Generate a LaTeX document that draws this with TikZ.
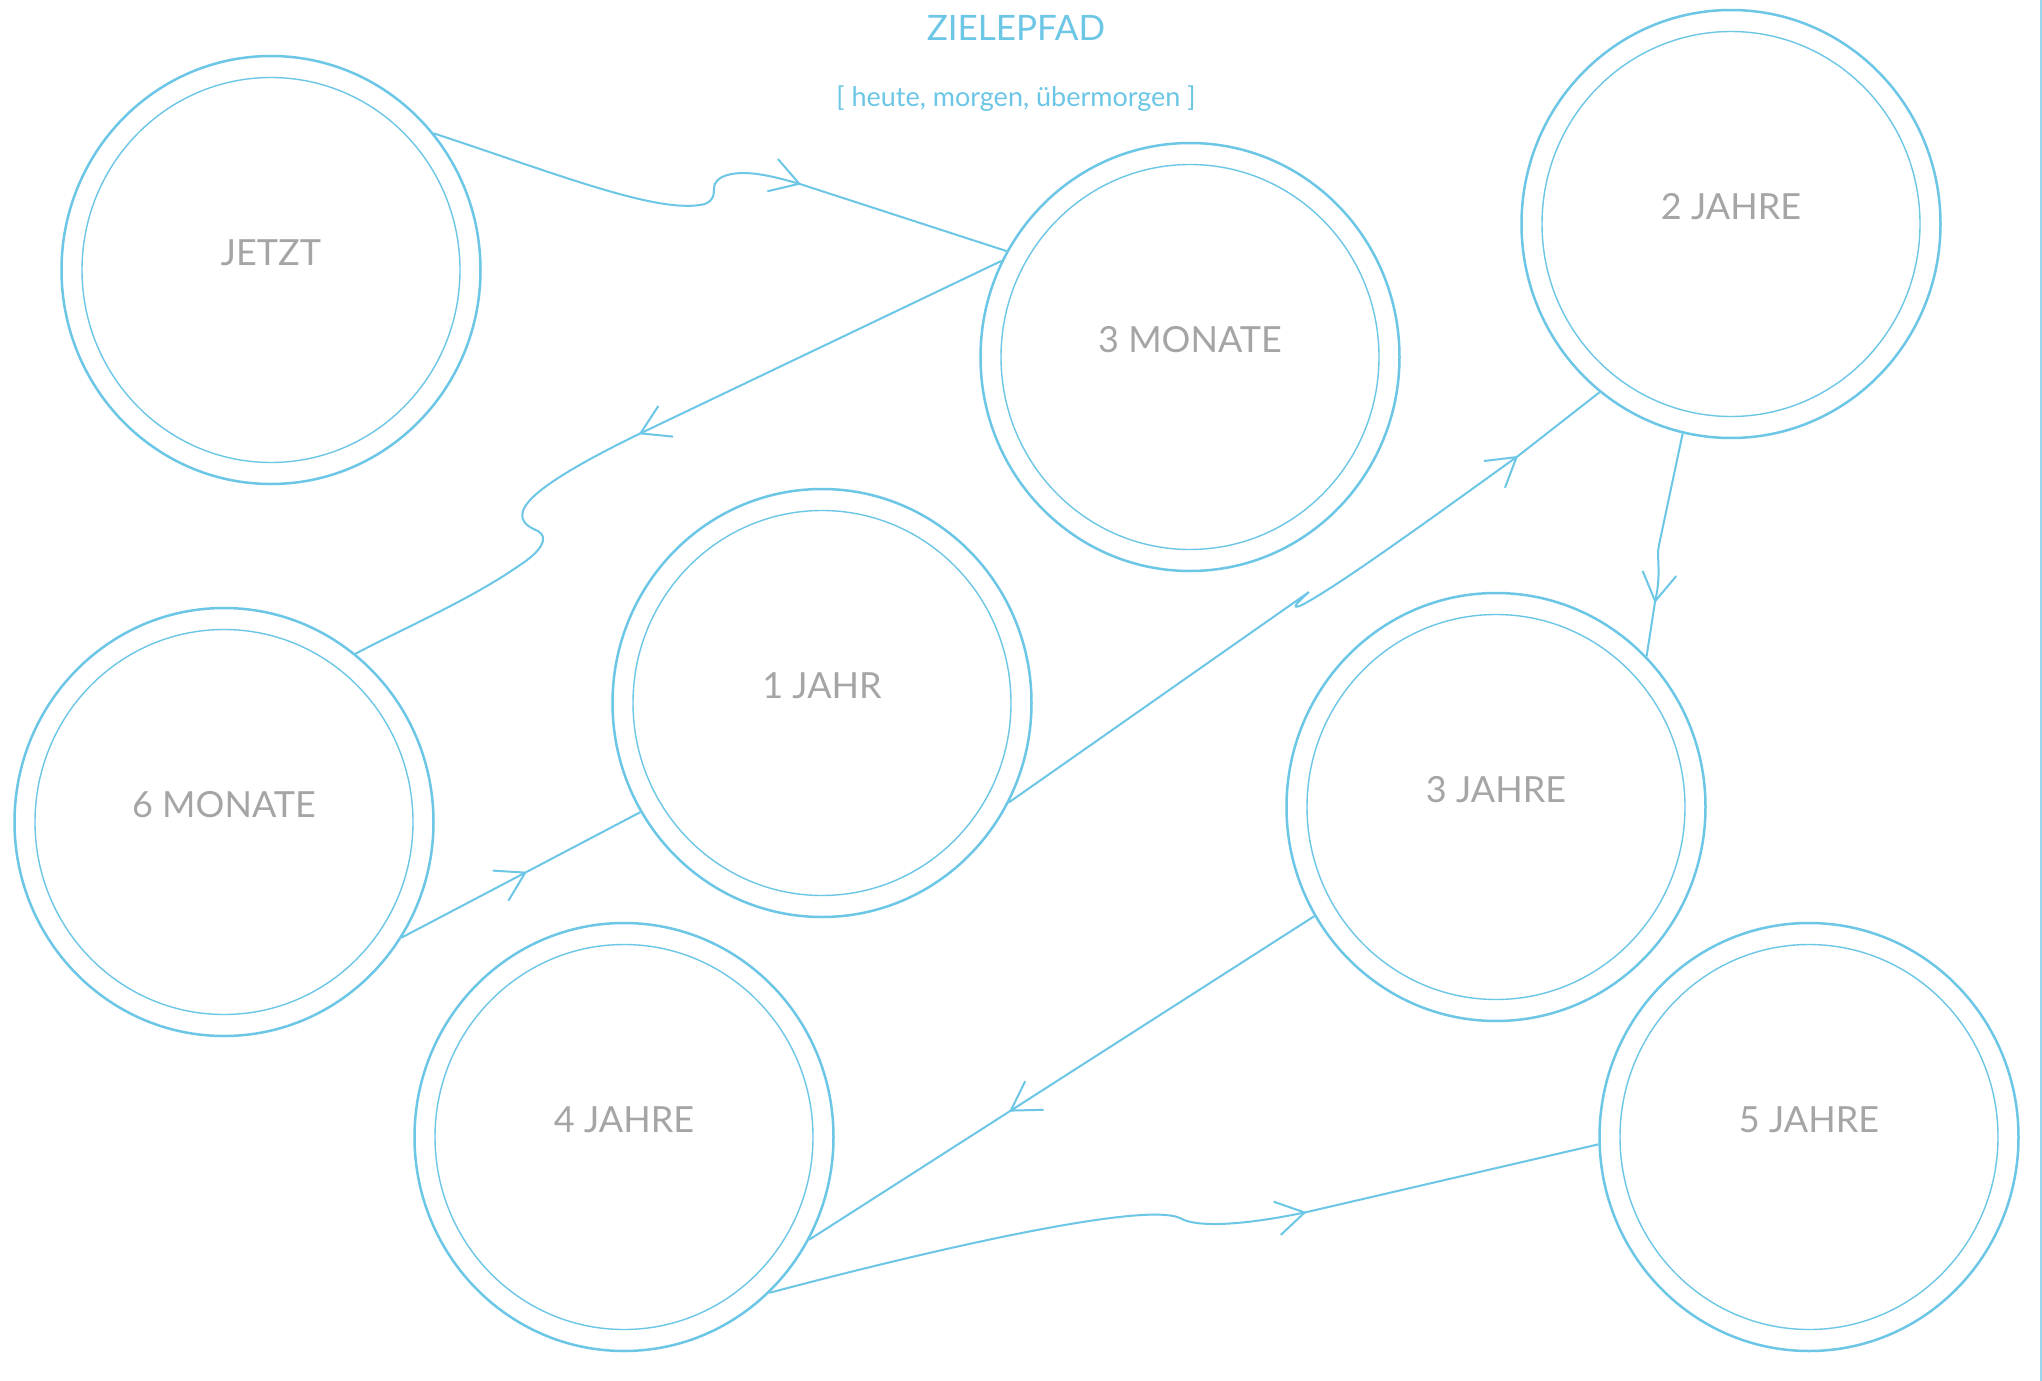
\documentclass[tikz,border=0pt]{standalone}
\usepackage{fontspec}
\setmainfont{Lato}
\usetikzlibrary{shapes.geometric,arrows.meta,decorations.markings}
\definecolor{pathblue}{RGB}{108,198,230}
\definecolor{labelgray}{RGB}{165,165,165}
\begin{document}
\begin{tikzpicture}[x=0.5pt,y=-0.5pt,
  ring/.style={ellipse, draw=pathblue, line width=1.25pt,
    minimum width=209.5pt, minimum height=214pt, inner sep=0pt},
  innerring/.style={draw=pathblue, line width=0.7pt},
  lbl/.style={anchor=base, text=labelgray, font=\fontsize{18}{20}\selectfont},
  conn/.style={draw=pathblue, line width=1pt},
  midarrow/.style={postaction={decorate, decoration={markings,
    mark=at position #1 with {\arrow{Straight Barb[length=14pt,width=17pt]}}}}}
]
\fill[white] (0,0) rectangle (2042,1381);
\useasboundingbox (0,0) rectangle (2042,1381);
\draw[pathblue!70, line width=1pt] (2041,0) -- (2041,1381);

% heading
\node[anchor=base, text=pathblue, font=\fontsize{17.5}{20}\selectfont] (title) at (1016,40) {ZIELEPFAD};
\node[anchor=base, text=pathblue, font=\fontsize{13.5}{16}\selectfont] (subtitle) at (1016,106) {[ heute, morgen, übermorgen ]};

% milestones: double rings with their labels
\foreach \n/\x/\y/\t in {jetzt/271/270/JETZT, mon3/1190/357/3 MONATE, jahr2/1731/224/2 JAHRE,
    jahr1/822/703/1 JAHR, mon6/224/822/6 MONATE, jahr3/1496/807/3 JAHRE,
    jahr4/624/1137/4 JAHRE, jahr5/1809/1137/5 JAHRE}{
  \node[ring] (\n) at (\x,\y) {};
  \draw[innerring] (\n.center) ellipse [x radius=94.5pt, y radius=96.25pt];
  \node[lbl] (\n-t) at ([yshift=2.5pt]\n.center) {\t};
}

% path between the milestones
\draw[conn, midarrow=-108pt] (jetzt.40.7)
  .. controls (560,175) and (660,215) .. (705,204)
  .. controls (722,196) and (706,186) .. (722,177)
  .. controls (742,168) and (772,176) .. (800,184) -- (mon3.150.9);

\draw[conn, midarrow=201pt] (mon3.153.4) -- (637,435)
  .. controls (590,458) and (540,485) .. (526,505)
  .. controls (516,520) and (528,527) .. (538,531)
  .. controls (550,538) and (540,552) .. (520,565)
  .. controls (470,600) and (400,630) .. (mon6.52);

\draw[conn, midarrow=70.7pt] (mon6.-33.6) -- (jahr1.211.3);

\draw[conn, midarrow=-51.7pt] (jahr1.-28.4) -- (1309,592)
  .. controls (1300,600) and (1288,611) .. (1302,605)
  .. controls (1340,585) and (1440,512) .. (1518,456) -- (jahr2.232.2);

\draw[conn, midarrow=-27pt] (jahr2.-103.9) -- (1659,545)
  .. controls (1656,558) and (1662,572) .. (1655,602) -- (jahr3.45.8);

\draw[conn, midarrow=-118.7pt] (jahr3.211.2) -- (jahr4.-29.3);

\draw[conn, midarrow=-149.8pt] (jahr4.-47.3)
  .. controls (900,1258) and (1140,1200) .. (1180,1218)
  .. controls (1200,1230) and (1260,1222) .. (1307,1212) -- (jahr5.182.2);
\end{tikzpicture}
\end{document}
